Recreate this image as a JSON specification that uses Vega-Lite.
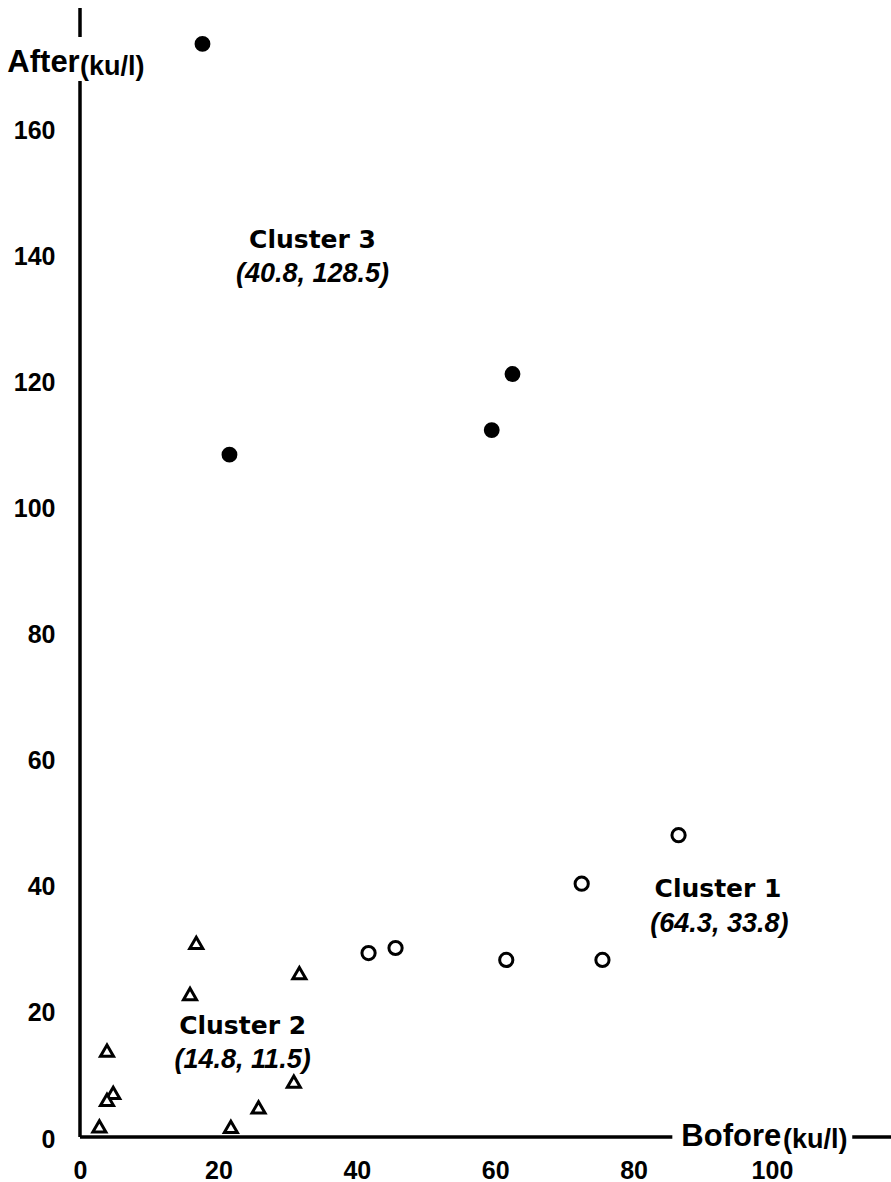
{
  "$schema": "https://vega.github.io/schema/vega-lite/v6.json",
  "autosize": "none",
  "padding": {"left": 80, "top": 8, "right": 0, "bottom": 45},
  "width": 811,
  "height": 1129,
  "background": "white",
  "config": {"view": {"stroke": null}},
  "datasets": {
    "points": [
      {"before": 17.7, "after": 173.5, "cluster": "Cluster 3"},
      {"before": 21.6, "after": 108.3, "cluster": "Cluster 3"},
      {"before": 59.5, "after": 112.2, "cluster": "Cluster 3"},
      {"before": 62.5, "after": 121.1, "cluster": "Cluster 3"},
      {"before": 86.5, "after": 47.9, "cluster": "Cluster 1"},
      {"before": 72.5, "after": 40.2, "cluster": "Cluster 1"},
      {"before": 41.7, "after": 29.2, "cluster": "Cluster 1"},
      {"before": 45.6, "after": 30.0, "cluster": "Cluster 1"},
      {"before": 61.6, "after": 28.1, "cluster": "Cluster 1"},
      {"before": 75.5, "after": 28.1, "cluster": "Cluster 1"},
      {"before": 16.8, "after": 30.8, "cluster": "Cluster 2"},
      {"before": 31.7, "after": 26.0, "cluster": "Cluster 2"},
      {"before": 15.9, "after": 22.7, "cluster": "Cluster 2"},
      {"before": 3.9, "after": 13.7, "cluster": "Cluster 2"},
      {"before": 4.8, "after": 7.0, "cluster": "Cluster 2"},
      {"before": 3.9, "after": 5.9, "cluster": "Cluster 2"},
      {"before": 2.8, "after": 1.7, "cluster": "Cluster 2"},
      {"before": 21.8, "after": 1.6, "cluster": "Cluster 2"},
      {"before": 25.8, "after": 4.7, "cluster": "Cluster 2"},
      {"before": 30.9, "after": 8.8, "cluster": "Cluster 2"}
    ],
    "axislines": [
      {"x1": 0, "y1": 0, "x2": 0, "y2": 167.6},
      {"x1": 0, "y1": 174.6, "x2": 0, "y2": 179.2},
      {"x1": 0, "y1": 0, "x2": 85.6, "y2": 0},
      {"x1": 111.6, "y1": 0, "x2": 117.2, "y2": 0}
    ],
    "clusterTitles": [
      {"x": 33.6, "y": 142.4, "label": "Cluster 3"},
      {"x": 92.2, "y": 39.4, "label": "Cluster 1"},
      {"x": 23.5, "y": 17.6, "label": "Cluster 2"}
    ],
    "clusterCoords": [
      {"x": 33.6, "y": 137.0, "label": "(40.8, 128.5)"},
      {"x": 92.4, "y": 33.8, "label": "(64.3, 33.8)"},
      {"x": 23.5, "y": 12.2, "label": "(14.8, 11.5)"}
    ],
    "titlesBig": [
      {"x": -10.5, "y": 169.0, "label": "After"},
      {"x": 86.9, "y": -1.5, "label": "Bofore"}
    ],
    "titlesSmall": [
      {"x": 0.0, "y": 168.6, "label": "(ku/l)"},
      {"x": 101.6, "y": -1.7, "label": "(ku/l)"}
    ]
  },
  "layer": [
    {
      "data": {"name": "axislines"},
      "mark": {"type": "rule", "strokeWidth": 3.5, "color": "black", "strokeCap": "butt"},
      "encoding": {
        "x": {"field": "x1", "type": "quantitative", "scale": {"domain": [0, 117.2], "nice": false, "zero": false},
          "axis": {"values": [0, 20, 40, 60, 80, 100], "domain": false, "ticks": false, "grid": false, "title": null,
            "labelPadding": 21, "labelFlush": false, "labelOverlap": false,
            "labelFont": "Liberation Sans", "labelFontWeight": "bold", "labelFontSize": 25, "labelColor": "black"}},
        "y": {"field": "y1", "type": "quantitative", "scale": {"domain": [0, 179.2], "nice": false, "zero": false},
          "axis": {"values": [0, 20, 40, 60, 80, 100, 120, 140, 160], "domain": false, "ticks": false, "grid": false, "title": null,
            "labelPadding": 25, "labelFlush": false, "labelOverlap": false, "labelOffset": 2,
            "labelFont": "Liberation Sans", "labelFontWeight": "bold", "labelFontSize": 25, "labelColor": "black"}},
        "x2": {"field": "x2"},
        "y2": {"field": "y2"}
      }
    },
    {
      "data": {"name": "points"},
      "mark": {"type": "point", "filled": true, "stroke": "black", "strokeWidth": 3, "opacity": 1},
      "encoding": {
        "x": {"field": "before", "type": "quantitative"},
        "y": {"field": "after", "type": "quantitative"},
        "shape": {"field": "cluster", "type": "nominal", "scale": {"domain": ["Cluster 1", "Cluster 2", "Cluster 3"], "range": ["circle", "triangle-up", "circle"]}, "legend": null},
        "fill": {"field": "cluster", "type": "nominal", "scale": {"domain": ["Cluster 1", "Cluster 2", "Cluster 3"], "range": ["white", "white", "black"]}, "legend": null},
        "size": {"field": "cluster", "type": "nominal", "scale": {"domain": ["Cluster 1", "Cluster 2", "Cluster 3"], "range": [175, 165, 120]}, "legend": null}
      }
    },
    {
      "data": {"name": "clusterTitles"},
      "mark": {"type": "text", "font": "DejaVu Sans", "fontWeight": "bold", "fontSize": 25, "align": "center", "baseline": "middle", "color": "black"},
      "encoding": {
        "x": {"field": "x", "type": "quantitative"},
        "y": {"field": "y", "type": "quantitative"},
        "text": {"field": "label"}
      }
    },
    {
      "data": {"name": "clusterCoords"},
      "mark": {"type": "text", "font": "Liberation Sans", "fontWeight": "bold", "fontStyle": "italic", "fontSize": 27, "align": "center", "baseline": "middle", "color": "black"},
      "encoding": {
        "x": {"field": "x", "type": "quantitative"},
        "y": {"field": "y", "type": "quantitative"},
        "text": {"field": "label"}
      }
    },
    {
      "data": {"name": "titlesBig"},
      "mark": {"type": "text", "font": "Liberation Sans", "fontWeight": "bold", "fontSize": 31, "align": "left", "baseline": "alphabetic", "color": "black"},
      "encoding": {
        "x": {"field": "x", "type": "quantitative"},
        "y": {"field": "y", "type": "quantitative"},
        "text": {"field": "label"}
      }
    },
    {
      "data": {"name": "titlesSmall"},
      "mark": {"type": "text", "font": "Liberation Sans", "fontWeight": "bold", "fontSize": 27, "align": "left", "baseline": "alphabetic", "color": "black"},
      "encoding": {
        "x": {"field": "x", "type": "quantitative"},
        "y": {"field": "y", "type": "quantitative"},
        "text": {"field": "label"}
      }
    }
  ]
}
